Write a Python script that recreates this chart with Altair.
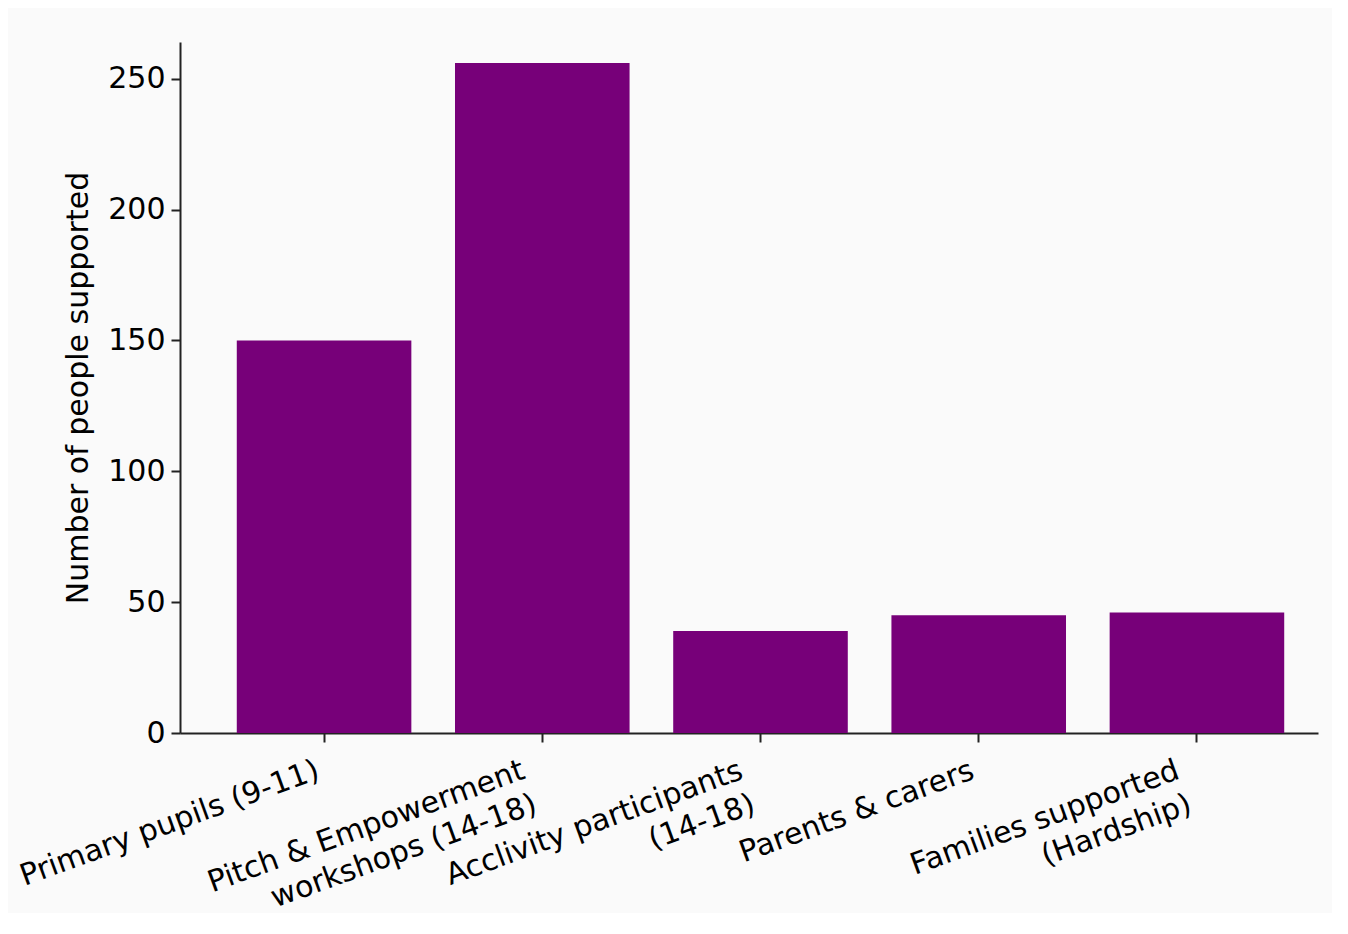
import altair as alt
import pandas as pd

categories = [
    "Primary pupils (9-11)",
    "Pitch & Empowerment\nworkshops (14-18)",
    "Acclivity participants\n(14-18)",
    "Parents & carers",
    "Families supported\n(Hardship)",
]
values = [150, 256, 39, 45, 46]
y_ticks = [0, 50, 100, 150, 200, 250]

df = pd.DataFrame({"category": categories, "value": values})

FONT = "DejaVu Sans"
FS = 30

chart = alt.Chart(df).mark_bar(color="#770079").encode(
    x=alt.X(
        "category:N",
        sort=categories,
        scale=alt.Scale(paddingInner=0.2, paddingOuter=0.2075, align=0.627),
        axis=alt.Axis(
            title=None,
            labelAngle=-20,
            labelAlign="right",
            labelBaseline="top",
            labelExpr="split(datum.label, '\\n')",
            labelFont=FONT,
            labelFontSize=FS,
            labelLineHeight=36,
            labelColor="black",
            labelPadding=13,
            labelOffset={
                "condition": {"test": "indexof(datum.value, '\\n') >= 0", "value": -24},
                "value": -11,
            },
            labelLimit=0,
            labelOverlap=False,
            tickSize=9,
            tickWidth=2,
            tickColor="#222222",
            domainColor="#222222",
            domainWidth=2,
            grid=False,
        ),
    ),
    y=alt.Y(
        "value:Q",
        scale=alt.Scale(domain=[0, 264], nice=False),
        axis=alt.Axis(
            title="Number of people supported",
            values=y_ticks,
            labelFont=FONT,
            labelFontSize=FS,
            labelColor="black",
            labelPadding=6,
            titleFont=FONT,
            titleFontSize=FS,
            titleFontWeight="normal",
            titleColor="black",
            titlePadding=14,
            tickSize=9,
            tickWidth=2,
            tickColor="#222222",
            domainColor="#222222",
            domainWidth=2,
            grid=False,
        ),
    ),
).properties(
    width=1138,
    height=691,
    autosize=alt.AutoSizeParams(type="none"),
    padding={"left": 172, "top": 34, "right": 14, "bottom": 180},
    background="#fafafa",
).configure_view(
    stroke=None
)

chart.save("out.html", embed_options={"renderer": "svg", "actions": False})
